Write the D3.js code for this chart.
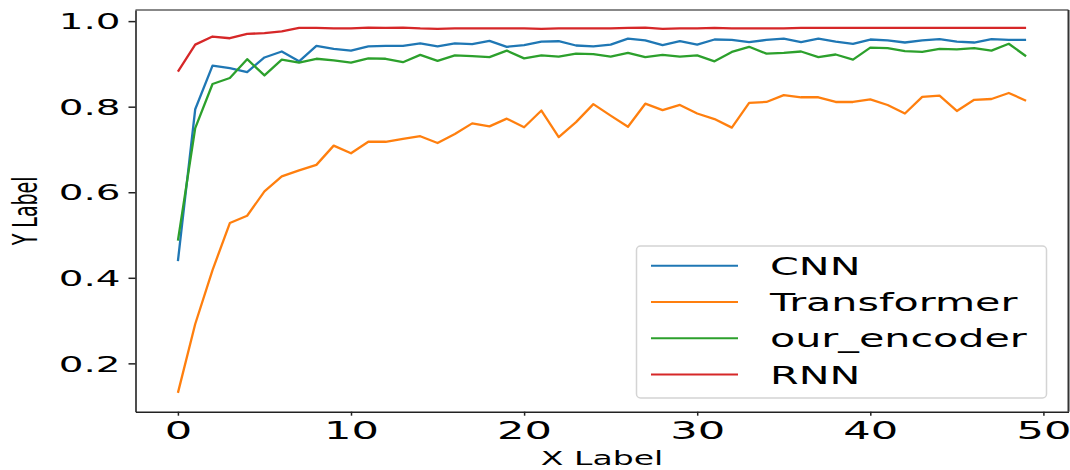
<!DOCTYPE html>
<html>
<head>
<meta charset="utf-8">
<script src="https://cdn.jsdelivr.net/npm/d3@7"></script>
<style>
  body { margin: 0; background: #fff; }
  text { font-family: "DejaVu Sans", sans-serif; fill: #000; }
</style>
</head>
<body>
<script>
const width = 1070;
const height = 470;

const epochs = [0,1,2,3,4,5,6,7,8,9,10,11,12,13,14,15,16,17,18,19,20,21,22,23,24,
  25,26,27,28,29,30,31,32,33,34,35,36,37,38,39,40,41,42,43,44,45,46,47,48,49];

const cnn = [0.439,0.794,0.896,0.890,0.881,0.915,0.929,0.906,0.942,0.935,
  0.931,0.941,0.942,0.942,0.948,0.941,0.948,0.946,0.954,0.940,
  0.944,0.952,0.953,0.943,0.941,0.945,0.959,0.955,0.944,0.953,
  0.945,0.957,0.956,0.951,0.956,0.959,0.951,0.959,0.952,0.947,
  0.957,0.955,0.950,0.955,0.958,0.952,0.950,0.958,0.956,0.956];

const transformer = [0.131,0.292,0.418,0.528,0.545,0.602,0.637,0.651,0.664,0.709,
  0.691,0.718,0.718,0.725,0.731,0.715,0.736,0.761,0.754,0.772,
  0.752,0.791,0.729,0.764,0.806,0.779,0.753,0.807,0.792,0.804,
  0.784,0.771,0.751,0.809,0.811,0.827,0.822,0.822,0.811,0.811,
  0.817,0.804,0.784,0.823,0.826,0.790,0.816,0.818,0.832,0.814];

const ourEncoder = [0.487,0.750,0.853,0.867,0.911,0.873,0.910,0.903,0.912,0.908,
  0.903,0.913,0.912,0.904,0.921,0.907,0.920,0.918,0.916,0.931,
  0.913,0.920,0.917,0.924,0.923,0.917,0.926,0.916,0.921,0.917,
  0.920,0.906,0.928,0.940,0.924,0.926,0.929,0.916,0.922,0.910,
  0.938,0.937,0.930,0.928,0.935,0.934,0.937,0.931,0.947,0.918];

const rnn = [0.882,0.945,0.964,0.960,0.970,0.972,0.976,0.984,0.984,0.983,
  0.983,0.985,0.984,0.985,0.983,0.982,0.983,0.983,0.983,0.983,
  0.983,0.982,0.983,0.983,0.983,0.983,0.984,0.985,0.982,0.983,
  0.983,0.984,0.983,0.983,0.983,0.983,0.984,0.984,0.984,0.984,
  0.984,0.984,0.984,0.984,0.984,0.984,0.984,0.984,0.984,0.984];

const seriesNames = ["CNN", "Transformer", "our_encoder", "RNN"];
const seriesValues = [cnn, transformer, ourEncoder, rnn];
const colors = ["#1f77b4", "#ff7f0e", "#2ca02c", "#d62728"];

const xTicks = [0, 10, 20, 30, 40, 50];
const yTicks = [0.2, 0.4, 0.6, 0.8, 1.0];

const plotLeft = 135.5, plotRight = 1068.5, plotTop = 10, plotBottom = 411.7;

const x = d3.scaleLinear().domain([-2.45, 51.45]).range([plotLeft, plotRight]);
const y = d3.scaleLinear().domain([0.087, 1.026]).range([plotBottom, plotTop]);

const svg = d3.select("body")
  .append("svg")
  .attr("width", width)
  .attr("height", height);

// lines
const line = d3.line()
  .x((d, i) => x(epochs[i]))
  .y((d) => y(d));

svg.append("g")
  .selectAll("path")
  .data(seriesValues)
  .join("path")
  .attr("d", (d) => line(d))
  .attr("fill", "none")
  .attr("stroke", (d, i) => colors[i])
  .attr("stroke-width", 2.3)
  .attr("stroke-linejoin", "round");

// frame
svg.append("line").attr("x1", plotLeft).attr("x2", plotRight).attr("y1", plotTop).attr("y2", plotTop)
  .attr("stroke", "#888").attr("stroke-width", 2);
svg.append("line").attr("x1", plotRight).attr("x2", plotRight).attr("y1", plotTop).attr("y2", plotBottom)
  .attr("stroke", "#333").attr("stroke-width", 2);

// x axis
const xAxis = svg.append("g")
  .attr("transform", `translate(0,${plotBottom})`)
  .call(d3.axisBottom(x).tickValues(xTicks).tickFormat(d3.format("d")).tickSize(4).tickSizeOuter(0));
xAxis.select(".domain").attr("stroke", "#222").attr("stroke-width", 1.6);
xAxis.selectAll(".tick line").attr("stroke", "#222").attr("stroke-width", 1.5);
xAxis.selectAll(".tick text")
  .attr("y", null).attr("dy", null)
  .attr("fill", "#000")
  .style("font-size", "24px")
  .attr("text-anchor", "middle")
  .attr("transform", "translate(0,27.6) scale(1.8,1)");

// y axis
const yAxis = svg.append("g")
  .attr("transform", `translate(${plotLeft},0)`)
  .call(d3.axisLeft(y).tickValues(yTicks).tickFormat(d3.format(".1f")).tickSize(7).tickSizeOuter(0));
yAxis.select(".domain").attr("stroke", "#222").attr("stroke-width", 1.6);
yAxis.selectAll(".tick line").attr("stroke", "#222").attr("stroke-width", 1.5);
yAxis.selectAll(".tick text")
  .attr("x", null).attr("dy", null)
  .attr("fill", "#000")
  .style("font-size", "21px")
  .attr("text-anchor", "end")
  .attr("transform", "translate(-15,7.7) scale(1.85,1)");

// axis labels
svg.append("text")
  .attr("transform", `translate(${(plotLeft + plotRight) / 2},465) scale(1.74,1)`)
  .attr("text-anchor", "middle")
  .style("font-size", "19px")
  .text("X Label");

svg.append("text")
  .attr("transform", `translate(37,${(plotTop + plotBottom) / 2}) scale(1.75,1) rotate(-90)`)
  .attr("text-anchor", "middle")
  .style("font-size", "19px")
  .text("Y Label");

// legend
const legend = svg.append("g");
legend.append("rect")
  .attr("x", 636.5).attr("y", 246)
  .attr("width", 410).attr("height", 152)
  .attr("rx", 4)
  .attr("fill", "#fff").attr("fill-opacity", 0.8)
  .attr("stroke", "#d4d4d4").attr("stroke-width", 1.5);

const rows = legend.selectAll("g.row")
  .data(seriesNames)
  .join("g")
  .attr("class", "row")
  .attr("transform", (d, i) => `translate(0,${265.7 + i * 36.3})`);

rows.append("line")
  .attr("x1", 651).attr("x2", 738)
  .attr("stroke", (d, i) => colors[i])
  .attr("stroke-width", 2);

rows.append("text")
  .attr("transform", "translate(770,9) scale(1.65,1)")
  .style("font-size", "25px")
  .text((d) => d);
</script>
</body>
</html>
